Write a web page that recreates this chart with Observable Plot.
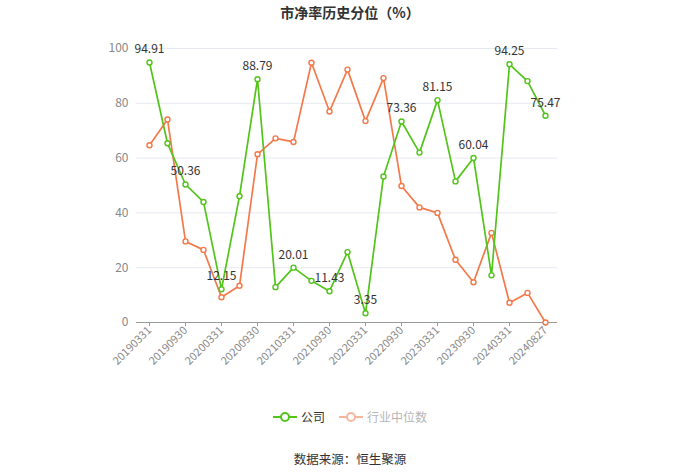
<!DOCTYPE html>
<html>
<head>
<meta charset="utf-8">
<script src="https://cdn.jsdelivr.net/npm/d3@7"></script>
<script src="https://cdn.jsdelivr.net/npm/@observablehq/plot@0.6"></script>
<style>
  html, body { margin: 0; padding: 0; background: #fff; }
  #wrap { position: relative; width: 700px; height: 474px; font-family: "Noto Sans CJK SC", "Noto Sans", sans-serif; }
  #title { position: absolute; top: 2px; left: 0; width: 700px; text-align: center; font-size: 14px; font-weight: bold; color: #333; }
  #legend { position: absolute; top: 408px; left: 0; width: 700px; display: flex; justify-content: center; gap: 14px; font-size: 12px; color: #333; }
  .item { display: flex; align-items: center; gap: 4px; }
  #caption { position: absolute; top: 449px; left: 0; width: 700px; text-align: center; font-size: 12.5px; color: #333; }
</style>
</head>
<body>
<div id="wrap">
  <div id="chart"></div>
  <div id="title">市净率历史分位（%）</div>
  <div id="legend"></div>
  <div id="caption">数据来源：恒生聚源</div>
</div>
<script>
const dates = ["20190331","20190630","20190930","20191231","20200331","20200630","20200930","20201231",
  "20210331","20210630","20210930","20211231","20220331","20220630","20220930","20221231",
  "20230331","20230630","20230930","20231231","20240331","20240630","20240827"];
const company = [94.91,65.4,50.36,44.0,12.15,46.1,88.79,12.9,20.01,15.2,11.43,25.7,3.35,53.3,73.36,62.0,
  81.15,51.5,60.04,17.2,94.25,88.1,75.47];
const industry = [64.7,74.1,29.6,26.5,9.2,13.4,61.4,67.2,65.9,94.8,77.0,92.3,73.5,89.2,49.8,42.0,
  40.0,22.9,14.7,32.7,7.2,10.8,0.0];
const tickDates = ["20190331","20190930","20200331","20200930","20210331","20210930","20220331",
  "20220930","20230331","20230930","20240331","20240827"];
const labeled = ["20190331","20190930","20200331","20200930","20210331","20210930","20220331",
  "20220930","20230331","20230930","20240331","20240827"];
const yTicks = [0,20,40,60,80,100];
const seriesNames = ["公司","行业中位数"];
const colors = ["#52c41a","#f4794a"];

const rows = [];
dates.forEach((d,i) => {
  rows.push({date:d, value:company[i], series:seriesNames[0]});
  rows.push({date:d, value:industry[i], series:seriesNames[1]});
});
const compRows = rows.filter(r => r.series === seriesNames[0]);
const indRows = rows.filter(r => r.series === seriesNames[1]);
const labelRows = compRows.filter(r => labeled.includes(r.date));

const chart = Plot.plot({
  width: 700,
  height: 474,
  marginLeft: 136,
  marginRight: 143,
  marginTop: 48,
  marginBottom: 152,
  style: {fontFamily: '"Noto Sans CJK SC", "Noto Sans", sans-serif', fontSize: "11px", background: "transparent"},
  x: {type: "point", domain: dates, padding: 0.5},
  y: {domain: [0,100]},
  marks: [
    Plot.gridY(yTicks.filter(t => t > 0), {stroke: "#e6e9f0", strokeOpacity: 1}),
    Plot.axisY({ticks: yTicks, tickSize: 0, tickPadding: 8, fill: "#888", fontSize: 12, label: null}),
    Plot.ruleY([0], {stroke: "#999"}),
    Plot.axisX({ticks: tickDates, tickSize: 4, stroke: "#999", tickRotate: -45, fill: "#888", fontSize: 11, tickPadding: 2, label: null}),
    Plot.line(indRows, {x: "date", y: "value", stroke: colors[1], strokeWidth: 1.7}),
    Plot.dot(indRows, {x: "date", y: "value", r: 2.5, stroke: colors[1], fill: "#fff", strokeWidth: 1.4}),
    Plot.line(compRows, {x: "date", y: "value", stroke: colors[0], strokeWidth: 1.7}),
    Plot.dot(compRows, {x: "date", y: "value", r: 2.5, stroke: colors[0], fill: "#fff", strokeWidth: 1.4}),
    Plot.text(labelRows, {x: "date", y: "value", text: d => d.value.toFixed(2), dy: -13, fill: "#333", fontSize: 12})
  ]
});
document.getElementById("chart").appendChild(chart);

const legend = document.getElementById("legend");
seriesNames.forEach((name, i) => {
  const op = i === 0 ? 1 : 0.55;
  const el = document.createElement("div");
  el.className = "item";
  el.style.opacity = op;
  el.innerHTML = `<svg width="24" height="12"><line x1="0" y1="6" x2="24" y2="6" stroke="${colors[i]}" stroke-width="2"/><circle cx="12" cy="6" r="4" fill="#fff" stroke="${colors[i]}" stroke-width="2"/></svg><span style="color:${i===0?'#333':'#777'}">${name}</span>`;
  legend.appendChild(el);
});
</script>
</body>
</html>
